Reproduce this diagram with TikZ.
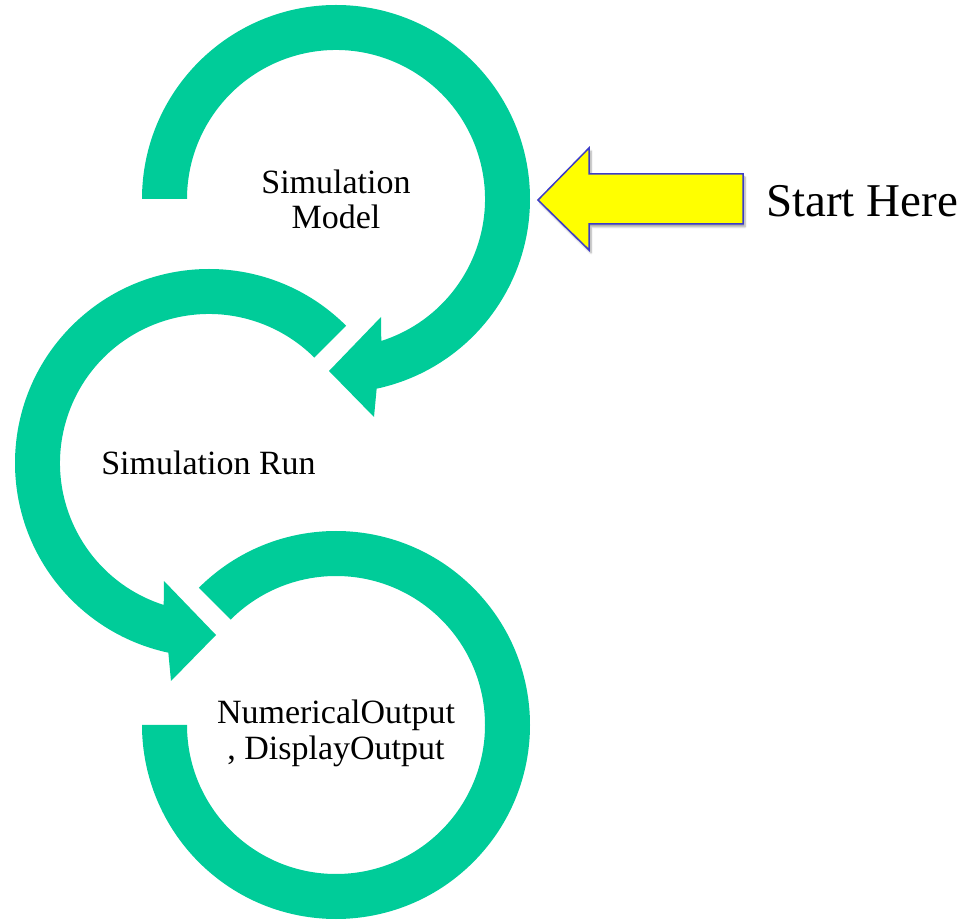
\documentclass[tikz,border=0pt]{standalone}
\usepackage{fontspec}
\setmainfont{Liberation Serif}
\usetikzlibrary{shadows.blur}
\definecolor{loopgreen}{RGB}{0,204,153}
\definecolor{arrowyellow}{RGB}{255,255,0}
\definecolor{arrowblue}{RGB}{60,60,200}

\begin{document}
\begin{tikzpicture}[x=1pt,y=1pt,
  loop/.style={fill=loopgreen, draw=none},
  steplabel/.style={font=\fontsize{34}{35}\selectfont, align=center, inner sep=0pt},
  pointer/.style={fill=arrowyellow, draw=arrowblue, line width=1.5pt, line join=miter,
    blur shadow={shadow xshift=2pt, shadow yshift=-3pt, shadow blur steps=6, shadow opacity=35}},
]
\useasboundingbox (0,0) rectangle (967,919);
\coordinate (c1) at (336,720);
\coordinate (c2) at (209,456);
\coordinate (c3) at (336,194);

% top loop: clockwise from the left, ending in an arrowhead at the bottom
\begin{scope}[shift={(c1)}]
  \fill[loop] (180:194) arc[start angle=180, end angle=-77.9, radius=194]
    -- (38,-218) -- (-7,-172) -- (45,-118) -- (-72.3:149)
    arc[start angle=-72.3, end angle=180, radius=149] -- cycle;
\end{scope}

% middle loop: counter-clockwise from the upper right, ending in an arrowhead
\begin{scope}[shift={(c2)}]
  \fill[loop] (45:194) arc[start angle=45, end angle=257.9, radius=194]
    -- (-38,-218) -- (7,-172) -- (-45,-118) -- (252.3:149)
    arc[start angle=252.3, end angle=45, radius=149] -- cycle;
\end{scope}

% bottom loop: open ring, no arrowhead
\begin{scope}[shift={(c3)}]
  \fill[loop] (135:194) arc[start angle=135, end angle=-180, radius=194]
    -- (-180:149) arc[start angle=-180, end angle=135, radius=149] -- cycle;
\end{scope}

\node[steplabel] (model) at (336,720) {Simulation\\Model};
\node[steplabel] (run) at (208.5,456) {Simulation Run};
\node[steplabel] (output) at (336,186) {NumericalOutput\\[1pt], DisplayOutput};

% entry pointer
\path[pointer] (538,719) -- (589,771) -- (589,745) -- (743,745) -- (743,695)
  -- (589,695) -- (589,669) -- cycle;
\node[font=\fontsize{47}{50}\selectfont, anchor=base west, inner sep=0pt] (start) at (766,702) {Start Here};
\end{tikzpicture}
\end{document}
